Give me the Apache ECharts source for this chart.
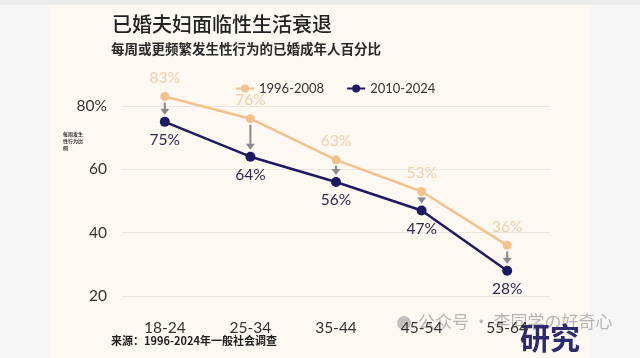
<!DOCTYPE html>
<html><head><meta charset="utf-8">
<script src="https://cdn.jsdelivr.net/npm/echarts@6/dist/echarts.min.js"></script>
<style>html,body{margin:0;padding:0;background:#f6f6f6}#c{width:640px;height:358px}</style>
</head><body><div id="c"></div>
<script>
const categories = ['18-24','25-34','35-44','45-54','55-64'];
const series1996 = [83, 76, 63, 53, 36];
const series2010 = [75, 64, 56, 47, 28];
const seriesNames = ['1996-2008','2010-2024'];

const chart = echarts.init(document.getElementById('c'));
const cjk = '"Noto Sans CJK SC", sans-serif';
const num = 'Lato, "Noto Sans", sans-serif';
chart.setOption({
  backgroundColor: '#f6f6f6',
  animation: false,
  graphic: [
    {type:'rect', shape:{x:0,y:0,width:640,height:5}, style:{fill:'#ebebeb'}, z:-10},
    {type:'rect', shape:{x:50,y:5,width:540,height:353}, style:{fill:'#fdf8f2'}, z:-10},
    {type:'text', left:112, top:14, style:{text:'已婚夫妇面临性生活衰退', font:'500 20px '+cjk, fill:'#222'}},
    {type:'text', left:111, top:42, style:{text:'每周或更频繁发生性行为的已婚成年人百分比', font:'bold 13.5px '+cjk, fill:'#2a2a2a'}},
    {type:'text', left:63, top:131, style:{text:'每周发生\n性行为比\n例', font:'bold 5px '+cjk, fill:'#333', lineHeight:7}},
    {type:'text', left:111, top:335, style:{text:'来源：1996-2024年一般社会调查', font:'bold 11px '+cjk, fill:'#222'}},
    {type:'text', left:418, top:313, style:{text:'公众号 · 李同学の好奇心', font:'17px '+cjk, fill:'rgba(160,160,160,0.75)'}},
    {type:'circle', shape:{cx:404,cy:323,r:7}, style:{fill:'rgba(170,170,170,0.7)'}},
    {type:'text', left:520, top:323, style:{text:'研究', font:'bold 30px '+cjk, fill:'#2d2a6e'}}
  ],
  legend: {
    top: 77, left: 230, itemGap: 22, itemWidth: 18, itemHeight: 10,
    textStyle: {fontFamily: num, fontSize: 13, color: '#333'},
    data: seriesNames
  },
  grid: {left: 122, right: 90, top: 42.7, bottom: 62},
  xAxis: {
    type: 'category', data: categories, boundaryGap: true,
    axisLine: {show:false}, axisTick: {show:false},
    axisLabel: {margin: 24, fontFamily: num, fontSize: 15.5, color: '#333'}
  },
  yAxis: {
    type: 'value', min: 20, max: 100, interval: 20,
    axisLabel: {margin: 15, fontFamily: num, fontSize: 15.5, color: '#333', showMaxLabel: false,
      formatter: v => v === 80 ? v + '%' : String(v)},
    splitLine: {showMaxLine: false, lineStyle: {color: '#ebe6e0', width: 1}}
  },
  series: [
    {
      name: seriesNames[0], type: 'line', data: series1996, clip: false,
      symbol: 'circle', symbolSize: 9,
      itemStyle: {color: '#f1c28d'}, lineStyle: {color: '#f1c28d', width: 2.5},
      label: {show: true, position: 'top', distance: 6, formatter: '{c}%',
        fontFamily: num, fontSize: 15.5, color: '#ecd0ab'},
      z: 3
    },
    {
      name: seriesNames[1], type: 'line', data: series2010, clip: false,
      symbol: 'circle', symbolSize: 10,
      itemStyle: {color: '#1d1a5f'}, lineStyle: {color: '#1d1a5f', width: 2.5},
      label: {show: true, position: 'bottom', distance: 5, formatter: '{c}%',
        fontFamily: num, fontSize: 15.5, color: '#2b2b4a'},
      z: 4
    },
    {
      type: 'custom', name: 'arrows', silent: true, z: 2,
      data: categories.map((c, i) => [i, series1996[i], series2010[i]]),
      encode: {x: 0, y: [1, 2]},
      renderItem: function (params, api) {
        const a = api.coord([api.value(0), api.value(1)]);
        const b = api.coord([api.value(0), api.value(2)]);
        const x = a[0];
        const y1 = a[1] + 6, y2 = b[1] - 7;
        const head = 6;
        return {
          type: 'group',
          children: [
            {type: 'line', shape: {x1: x, y1: y1, x2: x, y2: y2 - head + 1},
              style: {stroke: '#8a8a8a', lineWidth: 2}},
            {type: 'polygon', shape: {points: [[x - 4.5, y2 - head], [x + 4.5, y2 - head], [x, y2]]},
              style: {fill: '#8a8a8a'}}
          ]
        };
      }
    }
  ]
});
</script></body></html>
